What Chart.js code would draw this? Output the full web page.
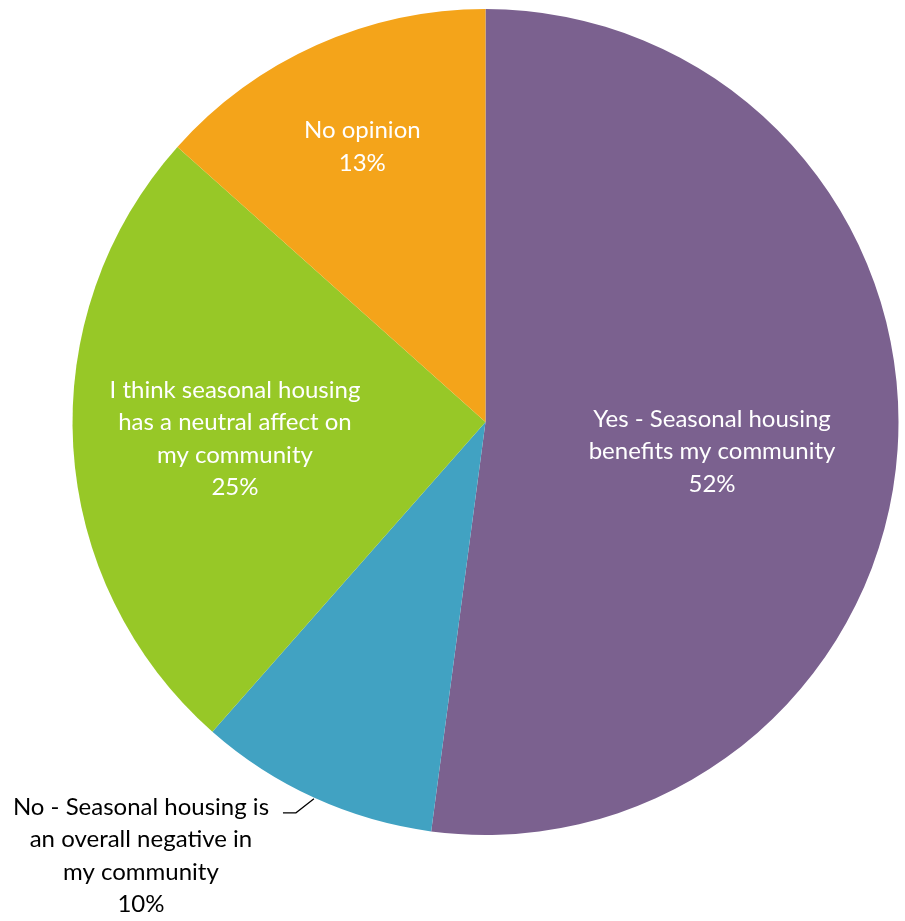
<!DOCTYPE html>
<html>
<head>
<meta charset="utf-8">
<script src="https://cdn.jsdelivr.net/npm/chart.js@4.4.0/dist/chart.umd.min.js"></script>
<style>
  html, body { margin: 0; padding: 0; background: #ffffff; }
  #wrap { width: 905px; height: 921px; }
</style>
</head>
<body>
<div id="wrap"><canvas id="c" width="905" height="921"></canvas></div>
<script>
// Categories (clockwise from 12 o'clock)
const categories = [
  "Yes - Seasonal housing benefits my community",
  "No - Seasonal housing is an overall negative in my community",
  "I think seasonal housing has a neutral affect on my community",
  "No opinion"
];
// Slice shares (percent of circle)
const shares = [52.1, 9.4, 25.1, 13.4];
// Percent labels as printed on the chart
const percentLabels = ["52%", "10%", "25%", "13%"];
// Wrapped label lines as printed
const labelLines = [
  ["Yes - Seasonal housing", "benefits my community"],
  ["No - Seasonal housing is", "an overall negative in", "my community"],
  ["I think seasonal housing", "has a neutral affect on", "my community"],
  ["No opinion"]
];
const colors = ["#7B618F", "#41A2C2", "#97C827", "#F4A41A"];

const labelPlugin = {
  id: 'sliceLabels',
  afterDatasetsDraw(chart) {
    const ctx = chart.ctx;
    const meta = chart.getDatasetMeta(0);
    const font = '24px "Lato", "Open Sans", sans-serif';
    const lineH = 32.5;
    // radial placement (fraction of radius) and angular nudge (deg) per slice
    const place = [
      { f: 0.553, dA: 3.6, color: '#ffffff', inside: true },
      { f: 0, dA: 0, color: '#000000', inside: false },
      { f: 0.608, dA: -0.4, color: '#ffffff', inside: true },
      { f: 0.73, dA: 0, color: '#ffffff', inside: true }
    ];
    ctx.save();
    ctx.font = font;
    ctx.textAlign = 'center';
    ctx.textBaseline = 'middle';
    meta.data.forEach((arc, i) => {
      const p = arc.getProps(['x', 'y', 'startAngle', 'endAngle', 'outerRadius'], true);
      const mid = (p.startAngle + p.endAngle) / 2;
      const lines = labelLines[i].concat([percentLabels[i]]);
      const cfg = place[i];
      if (cfg.inside) {
        const a = mid + cfg.dA * Math.PI / 180;
        const cx = p.x + Math.cos(a) * p.outerRadius * cfg.f;
        const cy = p.y + Math.sin(a) * p.outerRadius * cfg.f;
        const top = cy - (lines.length - 1) * lineH / 2;
        ctx.fillStyle = cfg.color;
        lines.forEach((t, k) => ctx.fillText(t, cx, top + k * lineH));
      } else {
        // leader line from slice edge
        const ex = p.x + Math.cos(mid) * (p.outerRadius + 1);
        const ey = p.y + Math.sin(mid) * (p.outerRadius + 1);
        const bx = ex - 18, by = ey + 14;
        const hx = bx - 13;
        ctx.strokeStyle = '#000000';
        ctx.lineWidth = 1.2;
        ctx.beginPath();
        ctx.moveTo(ex, ey);
        ctx.lineTo(bx, by);
        ctx.lineTo(hx, by);
        ctx.stroke();
        const cx = hx - 142;
        const top = by - 6;
        ctx.fillStyle = cfg.color;
        lines.forEach((t, k) => ctx.fillText(t, cx, top + k * lineH));
      }
    });
    ctx.restore();
  }
};

new Chart(document.getElementById('c'), {
  type: 'pie',
  data: {
    labels: categories,
    datasets: [{
      data: shares,
      backgroundColor: colors,
      borderWidth: 0,
      hoverOffset: 0
    }]
  },
  options: {
    responsive: false,
    animation: false,
    devicePixelRatio: 1,
    layout: { padding: { left: 72.5, right: 6.5, top: 9, bottom: 86 } },
    plugins: {
      legend: { display: false },
      tooltip: { enabled: false }
    }
  },
  plugins: [labelPlugin]
});
</script>
</body>
</html>
